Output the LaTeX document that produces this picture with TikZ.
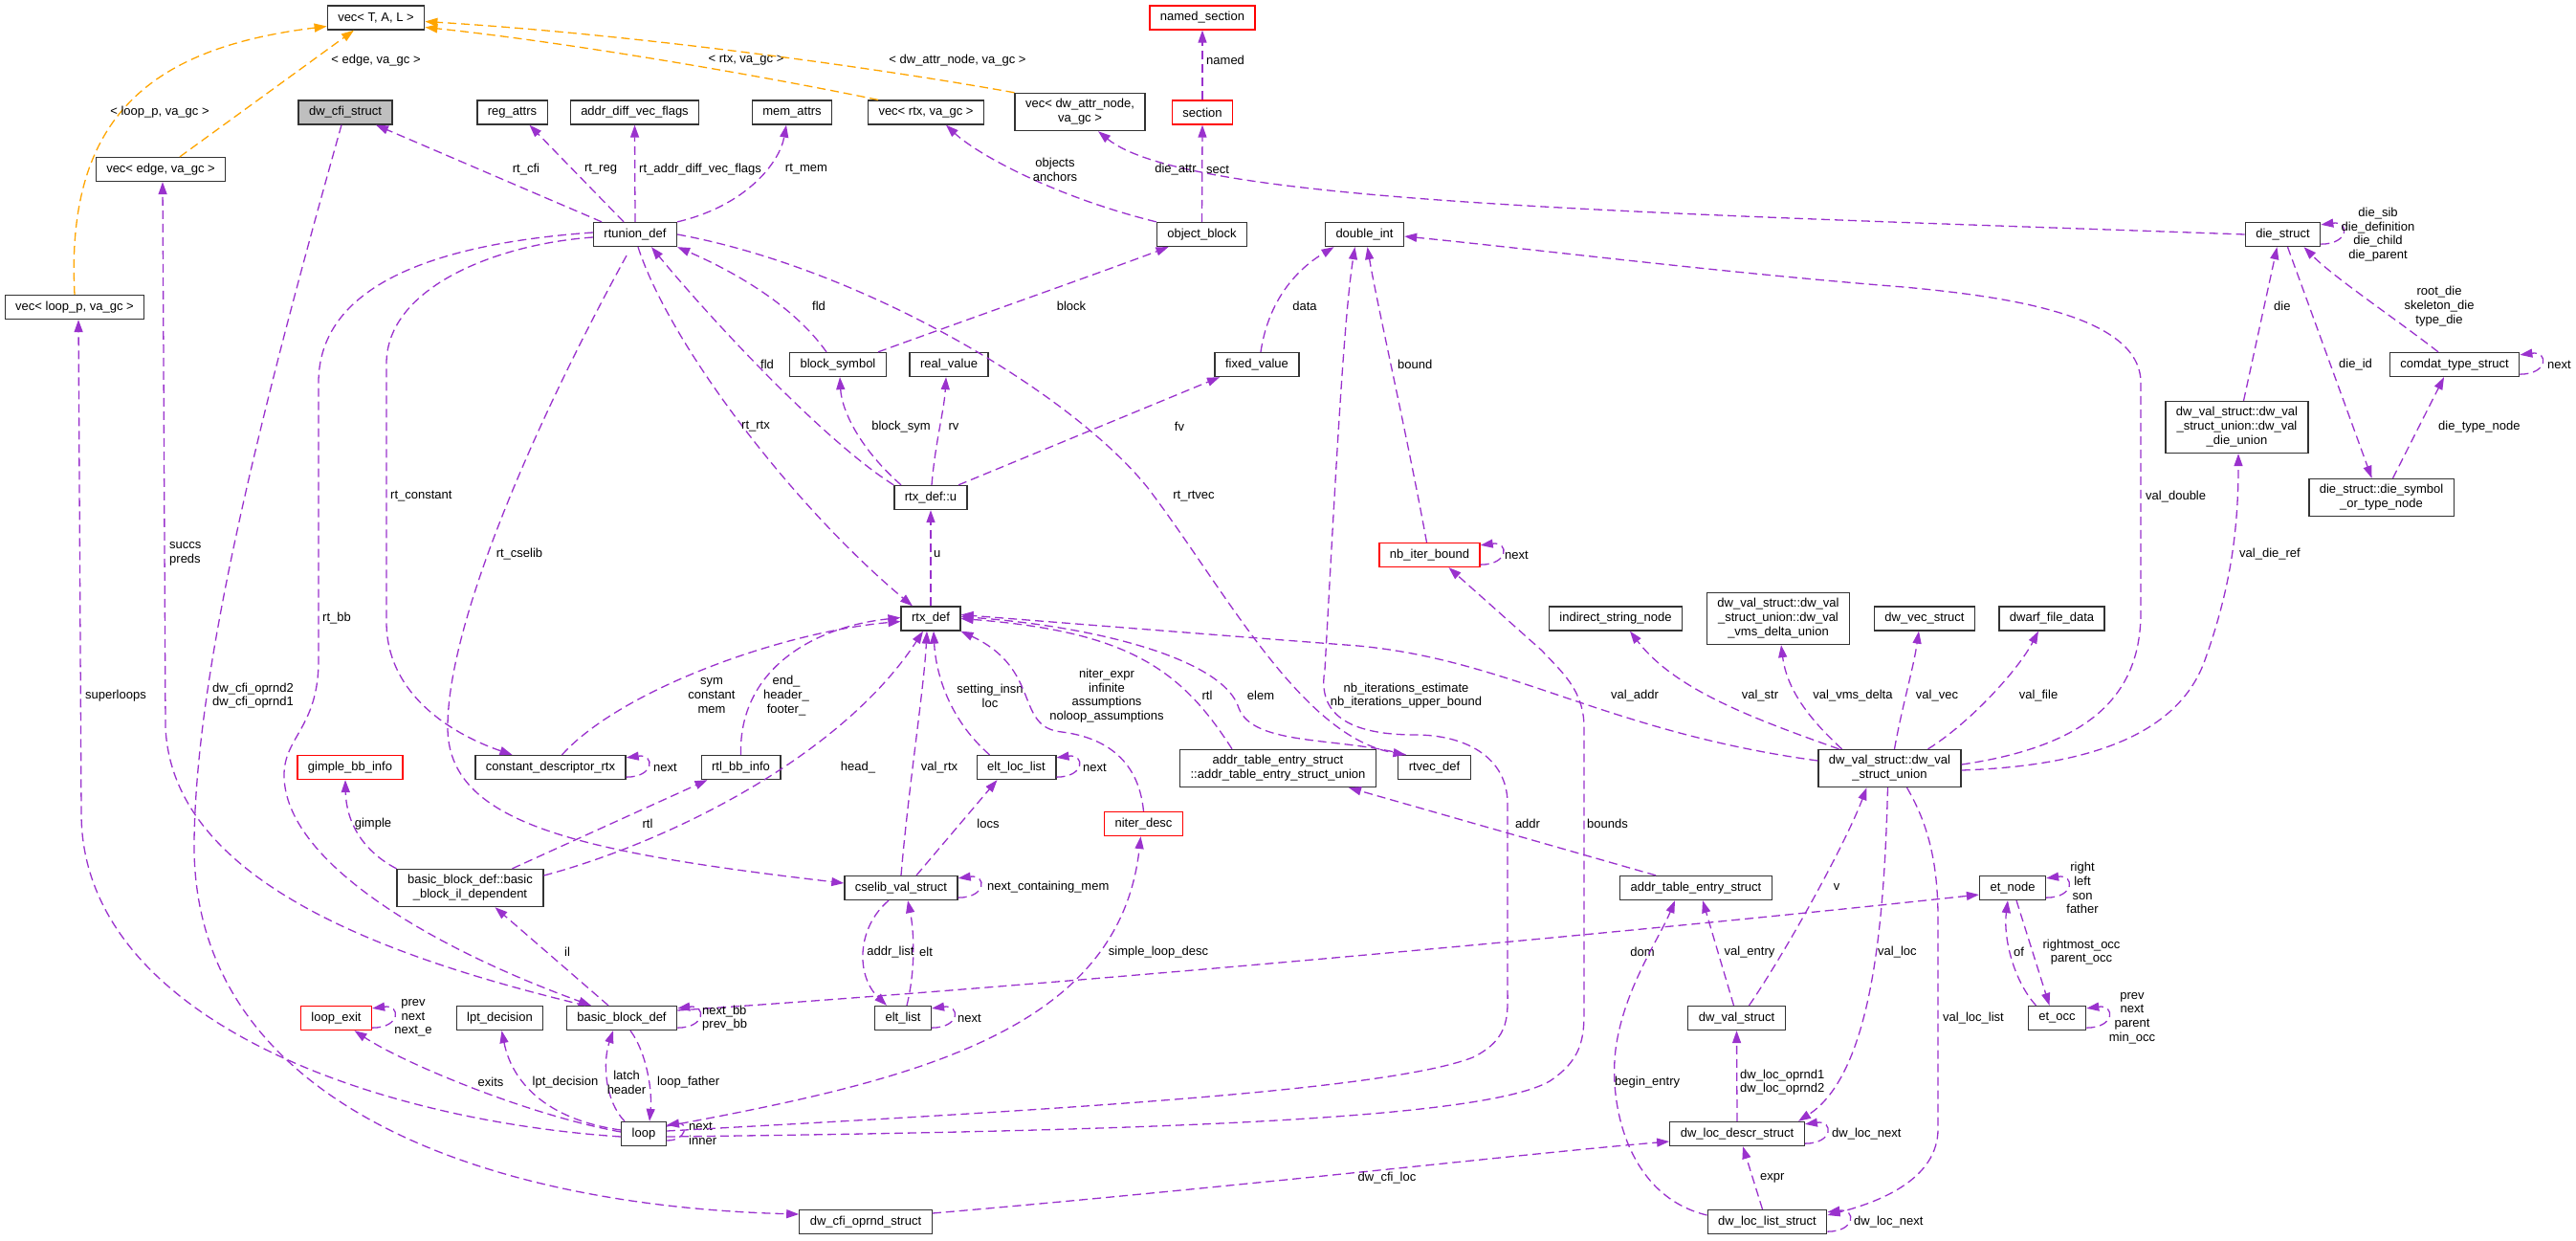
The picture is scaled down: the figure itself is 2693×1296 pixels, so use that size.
\documentclass[tikz,border=0pt]{standalone}
\usepackage{fontspec}
\setmainfont{Liberation Sans}
\usetikzlibrary{arrows.meta}
\definecolor{edgepurple}{RGB}{154,50,205}
\definecolor{tmplorange}{RGB}{255,165,0}
\definecolor{boxred}{RGB}{255,0,0}
\definecolor{focusgray}{RGB}{191,191,191}

\begin{document}
\begin{tikzpicture}[x=1pt,y=-1pt,
    cls/.style={draw=black!80, line width=1.3pt, fill=white, font=\fontsize{13}{15}\selectfont,
      align=center, inner xsep=11pt, inner ysep=6pt, minimum height=25pt},
    redcls/.style={cls, draw=boxred},
    focus/.style={cls, fill=focusgray},
    member/.style={draw=edgepurple, line width=1.3pt, dash pattern=on 9pt off 5pt,
      -{Triangle[length=13pt,width=9pt]}},
    tmpl/.style={member, draw=tmplorange},
    elabel/.style={font=\fontsize{13}{14.7}\selectfont, align=center, inner sep=0pt}]
  \useasboundingbox (0,0) rectangle (2693,1296);

  % classes
  \node[cls] (vectal) at (393,18.5) {vec< T, A, L >};
  \node[redcls] (namedsec) at (1257,18.5) {named\_section};
  \node[focus] (dwcfi) at (361,117.5) {dw\_cfi\_struct};
  \node[cls] (regattrs) at (535.5,117.5) {reg\_attrs};
  \node[cls] (advflags) at (663.5,117.5) {addr\_diff\_vec\_flags};
  \node[cls] (memattrs) at (828,117.5) {mem\_attrs};
  \node[cls] (vecrtx) at (968,117.5) {vec< rtx, va\_gc >};
  \node[cls] (vecdwattr) at (1129,117) {vec< dw\_attr\_node,\\ va\_gc >};
  \node[redcls] (section) at (1257,117.5) {section};
  \node[cls] (vecedge) at (168,177) {vec< edge, va\_gc >};
  \node[cls] (vecloop) at (78,321) {vec< loop\_p, va\_gc >};
  \node[cls] (rtunion) at (664,245) {rtunion\_def};
  \node[cls] (objblock) at (1256.5,245) {object\_block};
  \node[cls] (doubleint) at (1426.5,245) {double\_int};
  \node[cls] (diestruct) at (2386.5,245) {die\_struct};
  \node[cls] (blocksym) at (876,381) {block\_symbol};
  \node[cls] (realval) at (992,381) {real\_value};
  \node[cls] (fixedval) at (1314,381) {fixed\_value};
  \node[cls] (comdat) at (2566,381) {comdat\_type\_struct};
  \node[cls] (dieunion) at (2338.5,446.5) {dw\_val\_struct::dw\_val\\\_struct\_union::dw\_val\\\_die\_union};
  \node[cls] (diesym) at (2489.5,520) {die\_struct::die\_symbol\\\_or\_type\_node};
  \node[cls] (rtxu) at (973,520) {rtx\_def::u};
  \node[redcls] (nbiter) at (1494.5,580) {nb\_iter\_bound};
  \node[cls] (rtxdef) at (973,646.5) {rtx\_def};
  \node[cls] (indstr) at (1689,646.5) {indirect\_string\_node};
  \node[cls] (vmsunion) at (1859,646.5) {dw\_val\_struct::dw\_val\\\_struct\_union::dw\_val\\\_vms\_delta\_union};
  \node[cls] (dwvec) at (2012,646.5) {dw\_vec\_struct};
  \node[cls] (dwarffile) at (2145,646.5) {dwarf\_file\_data};
  \node[redcls] (gimplebb) at (366,802) {gimple\_bb\_info};
  \node[cls] (cdrtx) at (575.5,802) {constant\_descriptor\_rtx};
  \node[cls] (rtlbb) at (774.5,802) {rtl\_bb\_info};
  \node[cls] (eltloc) at (1062.5,802) {elt\_loc\_list};
  \node[cls] (ateunion) at (1336,803) {addr\_table\_entry\_struct\\::addr\_table\_entry\_struct\_union};
  \node[cls] (rtvec) at (1499.5,802) {rtvec\_def};
  \node[cls] (valunion) at (1975.5,803) {dw\_val\_struct::dw\_val\\\_struct\_union};
  \node[redcls] (niter) at (1195.5,861) {niter\_desc};
  \node[cls] (bbil) at (491.5,928) {basic\_block\_def::basic\\\_block\_il\_dependent};
  \node[cls] (cselib) at (942,928) {cselib\_val\_struct};
  \node[cls] (ate) at (1773,928) {addr\_table\_entry\_struct};
  \node[cls] (etnode) at (2104,928) {et\_node};
  \node[redcls] (loopexit) at (351.5,1064) {loop\_exit};
  \node[cls] (lpt) at (522.5,1064) {lpt\_decision};
  \node[cls] (bbdef) at (650,1064) {basic\_block\_def};
  \node[cls] (eltlist) at (944,1064) {elt\_list};
  \node[cls] (dwval) at (1815.5,1064) {dw\_val\_struct};
  \node[cls] (etocc) at (2150.5,1064) {et\_occ};
  \node[cls] (loop) at (673,1185) {loop};
  \node[cls] (locdescr) at (1816,1185) {dw\_loc\_descr\_struct};
  \node[cls] (cfioprnd) at (905,1277) {dw\_cfi\_oprnd\_struct};
  \node[cls] (loclist) at (1847.5,1277) {dw\_loc\_list\_struct};

  % template instances
  \draw[tmpl] (vecloop.north) .. controls (68,120) and (160,50) .. ([yshift=-9pt]vectal.west);
  \node[elabel] (l-loopp) at (167,117) {< loop\_p, va\_gc >};
  \draw[tmpl] ([xshift=20pt]vecedge.north) -- ([xshift=-23pt]vectal.south);
  \node[elabel] (l-edge) at (393,63) {< edge, va\_gc >};
  \draw[tmpl] ([xshift=-50pt]vecrtx.north) .. controls (800,80) and (600,45) .. ([yshift=-10pt]vectal.east);
  \node[elabel] (l-rtx) at (780,63) {< rtx, va\_gc >};
  \draw[tmpl] (vecdwattr.north west) .. controls (900,68) and (650,35) .. ([yshift=-4pt]vectal.east);
  \node[elabel] (l-dwattr) at (1001,63) {< dw\_attr\_node, va\_gc >};

  % rtunion_def members
  \draw[member] ([xshift=-35pt]rtunion.north) -- ([xshift=32pt]dwcfi.south);
  \node[elabel] (l-rtcfi) at (550,177) {rt\_cfi};
  \draw[member] ([xshift=-12pt]rtunion.north) -- ([xshift=18pt]regattrs.south);
  \node[elabel] (l-rtreg) at (628,177) {rt\_reg};
  \draw[member] (rtunion.north) -- (advflags.south);
  \node[elabel, anchor=west] (l-rtadv) at (668,177) {rt\_addr\_diff\_vec\_flags};
  \draw[member] (rtunion.north east) .. controls (780,215) and (815,170) .. ([xshift=-6pt]memattrs.south);
  \node[elabel] (l-rtmem) at (843,177) {rt\_mem};
  \draw[member] ([xshift=3pt]rtunion.south) .. controls (700,360) and (830,530) .. ([xshift=-19pt]rtxdef.north);
  \node[elabel] (l-rtrtx) at (790,446) {rt\_rtx};
  \draw[member] (rtunion.east) .. controls (900,280) and (1120,410) .. (1200,510)
    .. controls (1280,615) and (1360,770) .. ([xshift=-30pt]rtvec.north);
  \node[elabel] (l-rtrtvec) at (1248,519) {rt\_rtvec};
  \draw[member] ([yshift=-3pt]rtunion.west) .. controls (520,255) and (404,300) .. (404,380) -- (404,650)
    .. controls (404,730) and (480,770) .. ([xshift=-40pt]cdrtx.north);
  \node[elabel, anchor=west] (l-rtconst) at (408,519) {rt\_constant};
  \draw[member] ([yshift=-9pt]rtunion.south) ++(-9,0) .. controls (560,440) and (468,650) .. (468,760)
    .. controls (468,860) and (600,890) .. ([yshift=5pt]cselib.west);
  \node[elabel] (l-rtcselib) at (543,579) {rt\_cselib};
  \draw[member] ([yshift=2pt]rtunion.west) .. controls (450,255) and (333,300) .. (333,400) -- (333,690)
    .. controls (333,760) and (297,770) .. (297,810) .. controls (297,900) and (450,990) .. ([xshift=-32pt]bbdef.north);
  \node[elabel, anchor=west] (l-rtbb) at (337,646) {rt\_bb};

  % object_block, block_symbol, rtx_def::u
  \draw[member] (objblock.north west) .. controls (1100,205) and (1020,160) .. ([xshift=21pt]vecrtx.south);
  \node[elabel] (l-objects) at (1103,177) {objects\\anchors};
  \draw[member] (diestruct.west) .. controls (1700,222) and (1240,212) .. ([xshift=19pt]vecdwattr.south);
  \node[elabel] (l-dieattr) at (1229,177) {die\_attr};
  \draw[member] (objblock.north) -- (section.south);
  \node[elabel, anchor=west] (l-sect) at (1261,177) {sect};
  \draw[member] (section.north) -- (namedsec.south);
  \node[elabel, anchor=west] (l-named) at (1261,63) {named};
  \draw[member] ([xshift=-12pt]blocksym.north) .. controls (830,320) and (770,285) .. (rtunion.south east);
  \node[elabel] (l-fld1) at (856,320) {fld};
  \draw[member] (rtxu.north west) .. controls (860,460) and (740,330) .. ([xshift=17pt]rtunion.south);
  \node[elabel] (l-fld2) at (802,381) {fld};
  \draw[member] ([xshift=42pt]blocksym.north) .. controls (1050,320) and (1150,285) .. ([xshift=-35pt]objblock.south);
  \node[elabel] (l-block) at (1120,320) {block};
  \draw[member] ([xshift=4pt]fixedval.north) .. controls (1325,320) and (1350,285) .. ([xshift=-32pt]doubleint.south);
  \node[elabel] (l-data) at (1364,320) {data};
  \draw[member] ([xshift=-31pt]rtxu.north) .. controls (900,470) and (880,430) .. ([xshift=2pt]blocksym.south);
  \node[elabel] (l-blocksym) at (942,446) {block\_sym};
  \draw[member] ([xshift=1pt]rtxu.north) .. controls (978,460) and (987,430) .. ([xshift=-3pt]realval.south);
  \node[elabel] (l-rv) at (997,446) {rv};
  \draw[member] ([xshift=29pt]rtxu.north) -- ([xshift=-39pt]fixedval.south);
  \node[elabel] (l-fv) at (1233,446) {fv};
  \draw[member] (rtxdef.north) -- (rtxu.south);
  \node[elabel, anchor=west] (l-u) at (976,579) {u};

  % users of rtx_def
  \draw[member] ([xshift=12pt]cdrtx.north) .. controls (650,720) and (820,660) .. ([yshift=-3pt]rtxdef.west);
  \node[elabel] (l-sym) at (744,727) {sym\\constant\\mem};
  \draw[member] (rtlbb.north) .. controls (772,700) and (850,655) .. ([yshift=1pt]rtxdef.west);
  \node[elabel] (l-end) at (822,727) {end\_\\header\_\\footer\_};
  \draw[member] ([yshift=13pt]bbil.east) .. controls (700,880) and (880,790) .. ([xshift=-8pt]rtxdef.south);
  \node[elabel] (l-head) at (897,802) {head\_};
  \draw[member] (cselib.north) .. controls (950,820) and (966,720) .. ([xshift=-4pt]rtxdef.south);
  \node[elabel] (l-valrtx) at (982,802) {val\_rtx};
  \draw[member] ([xshift=-28pt]eltloc.north) .. controls (990,750) and (978,700) .. ([xshift=3pt]rtxdef.south);
  \node[elabel] (l-setting) at (1035,727) {setting\_insn\\loc};
  \draw[member] (niter.north) .. controls (1190,790) and (1150,770) .. (1110,765)
    .. controls (1060,760) and (1090,700) .. (rtxdef.south east);
  \node[elabel] (l-niterexpr) at (1157,727) {niter\_expr\\infinite\\assumptions\\noloop\_assumptions};
  \draw[member] ([xshift=-48pt]ateunion.north) .. controls (1235,700) and (1180,660) .. (rtxdef.east);
  \node[elabel] (l-rtl1) at (1262,727) {rtl};
  \draw[member] ([xshift=-30pt]rtvec.north) .. controls (1400,770) and (1310,780) .. (1295,740)
    .. controls (1280,690) and (1150,655) .. ([yshift=2pt]rtxdef.east);
  \node[elabel] (l-elem) at (1318,727) {elem};
  \draw[member] ([yshift=8pt]valunion.west) .. controls (1680,765) and (1580,690) .. (1420,675)
    .. controls (1250,662) and (1100,650) .. ([yshift=4pt]rtxdef.east);
  \node[elabel] (l-valaddr) at (1709,727) {val\_addr};

  % basic blocks
  \draw[member] (bbil.north west) .. controls (380,890) and (362,860) .. ([xshift=-5pt]gimplebb.south);
  \node[elabel] (l-gimple) at (390,861) {gimple};
  \draw[member] ([xshift=44pt]bbil.north) -- ([xshift=-35pt]rtlbb.south);
  \node[elabel] (l-rtl2) at (677,861) {rtl};
  \draw[member] ([xshift=-14pt]bbdef.north) -- ([xshift=26pt]bbil.south);
  \node[elabel, anchor=west] (l-il) at (590,995) {il};
  \draw[member] ([xshift=-38pt]bbdef.north) .. controls (400,1000) and (180,920) .. (173,760) -- ([xshift=2pt]vecedge.south);
  \node[elabel, anchor=west, align=left] (l-succs) at (177,579) {succs\\preds};
  \draw[member] ([yshift=8pt]bbdef.east) .. controls (1100,1030) and (1700,975) .. ([yshift=-7pt]etnode.west);
  \node[elabel] (l-dom) at (1717,995) {dom};
  \draw[member] ([yshift=3pt]bbdef.south east) .. controls +(30,0) and +(30,-4) .. ([yshift=-3pt]bbdef.north east);
  \node[elabel, anchor=west, align=left] (l-nextbb) at (734,1064) {next\_bb\\prev\_bb};

  % loop
  \draw[member] ([xshift=-20pt]loop.north) .. controls (632,1150) and (630,1110) .. ([xshift=-9pt]bbdef.south);
  \node[elabel] (l-latch) at (655,1131) {latch\\header};
  \draw[member] ([xshift=9pt]bbdef.south) .. controls (676,1100) and (682,1140) .. ([xshift=6pt]loop.north);
  \node[elabel, anchor=west] (l-father) at (687,1131) {loop\_father};
  \draw[member] ([yshift=-7pt]loop.east) .. controls +(22,0) and +(22,-3) .. ([yshift=-4pt]loop.north east);
  \node[elabel, anchor=west, align=left] (l-loopnext) at (720,1185) {next\\inner};
  \draw[member] ([yshift=2pt]loop.west) .. controls (550,1165) and (420,1110) .. ([xshift=19pt]loopexit.south);
  \node[elabel] (l-exits) at (513,1131) {exits};
  \draw[member] ([yshift=3pt]loopexit.south east) .. controls +(30,0) and +(30,-4) .. ([yshift=-3pt]loopexit.north east);
  \node[elabel] (l-loopexit) at (432,1064) {prev\\next\\next\_e};
  \draw[member] ([yshift=4pt]loop.west) .. controls (570,1170) and (535,1130) .. ([xshift=2pt]lpt.south);
  \node[elabel] (l-lpt) at (591,1131) {lpt\_decision};
  \draw[member] ([yshift=-3pt]loop.west) .. controls (380,1170) and (85,1060) .. (85,850) -- ([xshift=4pt]vecloop.south);
  \node[elabel, anchor=west] (l-superloops) at (89,727) {superloops};
  \draw[member] ([yshift=8pt]loop.east) .. controls (950,1130) and (1170,1080) .. ([xshift=-3pt]niter.south);
  \node[elabel] (l-simple) at (1211,995) {simple\_loop\_desc};
  \draw[member] ([yshift=3pt]loop.east) .. controls (1100,1160) and (1450,1140) .. (1540,1105)
    .. controls (1580,1085) and (1576,1060) .. (1576,1030) -- (1576,840)
    .. controls (1576,790) and (1530,768) .. (1480,768) .. controls (1400,768) and (1378,740) .. (1385,700)
    .. controls (1396,500) and (1405,330) .. ([xshift=-10pt]doubleint.south);
  \node[elabel] (l-nbiters) at (1470,727) {nb\_iterations\_estimate\\nb\_iterations\_upper\_bound};
  \draw[member] ([yshift=-3pt]loop.east) .. controls (1200,1182) and (1550,1170) .. (1620,1130)
    .. controls (1650,1110) and (1656,1090) .. (1656,1060) -- (1656,760)
    .. controls (1656,720) and (1630,700) .. (1612,680) -- ([xshift=20pt]nbiter.south);
  \node[elabel, anchor=west] (l-bounds) at (1659,861) {bounds};
  \draw[member] ([xshift=-3pt]nbiter.north) .. controls (1470,450) and (1440,320) .. ([xshift=3pt]doubleint.south);
  \node[elabel, anchor=west] (l-bound) at (1461,381) {bound};
  \draw[member] ([yshift=3pt]nbiter.south east) .. controls +(30,0) and +(30,-4) .. ([yshift=-3pt]nbiter.north east);
  \node[elabel, anchor=west] (l-nbnext) at (1573,580) {next};

  % dw_cfi
  \draw[member] ([xshift=-4pt]dwcfi.south) .. controls (270,440) and (205,700) .. (203,880)
    .. controls (200,1150) and (500,1260) .. ([yshift=8pt]cfioprnd.west);
  \node[elabel, anchor=west, align=left] (l-oprnd) at (222,727) {dw\_cfi\_oprnd2\\dw\_cfi\_oprnd1};
  \draw[member] ([yshift=9pt]cfioprnd.east) .. controls (1300,1240) and (1600,1205) .. ([yshift=-8pt]locdescr.west);
  \node[elabel] (l-cfiloc) at (1450,1231) {dw\_cfi\_loc};

  % cselib
  \draw[member] ([xshift=16pt]cselib.north) -- ([xshift=-20pt]eltloc.south);
  \node[elabel] (l-locs) at (1033,861) {locs};
  \draw[member] ([yshift=3pt]cselib.south east) .. controls +(30,0) and +(30,-4) .. ([yshift=-3pt]cselib.north east);
  \node[elabel, anchor=west] (l-ncm) at (1032,927) {next\_containing\_mem};
  \draw[member] ([yshift=3pt]eltloc.south east) .. controls +(30,0) and +(30,-4) .. ([yshift=-3pt]eltloc.north east);
  \node[elabel, anchor=west] (l-eltlocnext) at (1132,802) {next};
  \draw[member] ([yshift=3pt]cdrtx.south east) .. controls +(30,0) and +(30,-4) .. ([yshift=-3pt]cdrtx.north east);
  \node[elabel, anchor=west] (l-cdnext) at (683,802) {next};
  \draw[member] ([xshift=4pt]eltlist.north) .. controls (958,1010) and (955,970) .. ([xshift=7pt]cselib.south);
  \node[elabel, anchor=west] (l-elt) at (961,995) {elt};
  \draw[member] ([xshift=-13pt]cselib.south) .. controls (895,970) and (895,1020) .. ([xshift=-17pt]eltlist.north);
  \node[elabel] (l-addrlist) at (931,995) {addr\_list};
  \draw[member] ([yshift=3pt]eltlist.south east) .. controls +(30,0) and +(30,-4) .. ([yshift=-3pt]eltlist.north east);
  \node[elabel, anchor=west] (l-eltnext) at (1001,1064) {next};

  % dwarf values
  \draw[member] ([xshift=-42pt]ate.north) -- ([xshift=74pt]ateunion.south);
  \node[elabel] (l-addr) at (1597,861) {addr};
  \draw[member] ([xshift=-5pt]loclist.north) -- ([xshift=6pt]locdescr.south);
  \node[elabel, anchor=west] (l-expr) at (1840,1231) {expr};
  \draw[member] ([yshift=3pt]locdescr.south east) .. controls +(30,0) and +(30,-4) .. ([yshift=-3pt]locdescr.north east);
  \node[elabel, anchor=west] (l-locnext1) at (1915,1185) {dw\_loc\_next};
  \draw[member] ([yshift=3pt]loclist.south east) .. controls +(30,0) and +(30,-4) .. ([yshift=-3pt]loclist.north east);
  \node[elabel, anchor=west] (l-locnext2) at (1938,1277) {dw\_loc\_next};
  \draw[member] (locdescr.north) -- (dwval.south);
  \node[elabel, anchor=west, align=left] (l-locoprnd) at (1819,1131) {dw\_loc\_oprnd1\\dw\_loc\_oprnd2};
  \draw[member] ([yshift=7pt]loclist.west) .. controls (1700,1250) and (1680,1150) .. (1690,1090)
    .. controls (1700,1030) and (1735,980) .. ([xshift=-22pt]ate.south);
  \node[elabel, anchor=west] (l-begin) at (1688,1131) {begin\_entry};
  \draw[member] ([xshift=-3pt]dwval.north) -- ([xshift=7pt]ate.south);
  \node[elabel] (l-valentry) at (1829,995) {val\_entry};
  \draw[member] ([xshift=13pt]dwval.north) .. controls (1870,990) and (1930,880) .. ([xshift=-24pt]valunion.south);
  \node[elabel] (l-v) at (1920,927) {v};
  \draw[member] ([xshift=-2pt]valunion.south) .. controls (1970,950) and (1960,1120) .. ([xshift=64pt]locdescr.north);
  \node[elabel, anchor=west] (l-valloc) at (1963,995) {val\_loc};
  \draw[member] ([xshift=18pt]valunion.south) .. controls (2015,860) and (2026,900) .. (2026,960) -- (2026,1180)
    .. controls (2026,1230) and (1970,1255) .. ([yshift=7pt]loclist.east);
  \node[elabel, anchor=west] (l-vallocl) at (2031,1064) {val\_loc\_list};
  \draw[member] ([xshift=-53pt]valunion.north) .. controls (1830,750) and (1750,720) .. ([xshift=15pt]indstr.south);
  \node[elabel] (l-valstr) at (1840,727) {val\_str};
  \draw[member] ([xshift=-50pt]valunion.north) .. controls (1890,750) and (1868,720) .. ([xshift=3pt]vmsunion.south);
  \node[elabel] (l-valvms) at (1937,727) {val\_vms\_delta};
  \draw[member] ([xshift=5pt]valunion.north) .. controls (1988,740) and (2000,700) .. ([xshift=-6pt]dwvec.south);
  \node[elabel] (l-valvec) at (2025,727) {val\_vec};
  \draw[member] ([xshift=40pt]valunion.north) .. controls (2060,755) and (2110,700) .. ([xshift=-14pt]dwarffile.south);
  \node[elabel] (l-valfile) at (2131,727) {val\_file};
  \draw[member] ([yshift=4pt]valunion.east) .. controls (2180,780) and (2238,730) .. (2238,640) -- (2238,400)
    .. controls (2238,330) and (2100,310) .. (1990,300) .. controls (1800,285) and (1600,260) .. ([yshift=-2pt]doubleint.east);
  \node[elabel, anchor=west] (l-valdouble) at (2243,519) {val\_double};
  \draw[member] ([yshift=-2pt]valunion.east) .. controls (2200,800) and (2280,760) .. (2305,690)
    .. controls (2330,620) and (2340,560) .. ([xshift=1.5pt]dieunion.south);
  \node[elabel, anchor=west] (l-valdie) at (2341,579) {val\_die\_ref};

  % et tree
  \draw[member] ([xshift=-22pt]etocc.north) .. controls (2105,1025) and (2094,980) .. ([xshift=-5pt]etnode.south);
  \node[elabel, anchor=west] (l-of) at (2105,995) {of};
  \draw[member] ([xshift=4pt]etnode.south) -- ([xshift=-8pt]etocc.north);
  \node[elabel] (l-occ) at (2176,995) {rightmost\_occ\\parent\_occ};
  \draw[member] ([yshift=3pt]etnode.south east) .. controls +(30,0) and +(30,-4) .. ([yshift=-3pt]etnode.north east);
  \node[elabel] (l-etnode) at (2177,928) {right\\left\\son\\father};
  \draw[member] ([yshift=3pt]etocc.south east) .. controls +(30,0) and +(30,-4) .. ([yshift=-3pt]etocc.north east);
  \node[elabel] (l-etocc) at (2229,1064) {prev\\next\\parent\\min\_occ};

  % die
  \draw[member] ([xshift=7pt]dieunion.north) -- ([xshift=-6pt]diestruct.south);
  \node[elabel, anchor=west] (l-die) at (2377,320) {die};
  \draw[member] ([xshift=5pt]diestruct.south) -- ([xshift=-10pt]diesym.north);
  \node[elabel, anchor=west] (l-dieid) at (2445,381) {die\_id};
  \draw[member] ([xshift=-17pt]comdat.north) .. controls (2500,330) and (2440,290) .. ([xshift=22pt]diestruct.south);
  \node[elabel] (l-rootdie) at (2550,320) {root\_die\\skeleton\_die\\type\_die};
  \draw[member] ([xshift=12pt]diesym.north) -- ([xshift=-11pt]comdat.south);
  \node[elabel, anchor=west] (l-dietype) at (2549,446) {die\_type\_node};
  \draw[member] ([yshift=3pt]comdat.south east) .. controls +(30,0) and +(30,-4) .. ([yshift=-3pt]comdat.north east);
  \node[elabel, anchor=west] (l-comdatnext) at (2663,381) {next};
  \draw[member] ([yshift=3pt]diestruct.south east) .. controls +(30,0) and +(30,-4) .. ([yshift=-3pt]diestruct.north east);
  \node[elabel] (l-diesib) at (2486,245) {die\_sib\\die\_definition\\die\_child\\die\_parent};
\end{tikzpicture}
\end{document}
